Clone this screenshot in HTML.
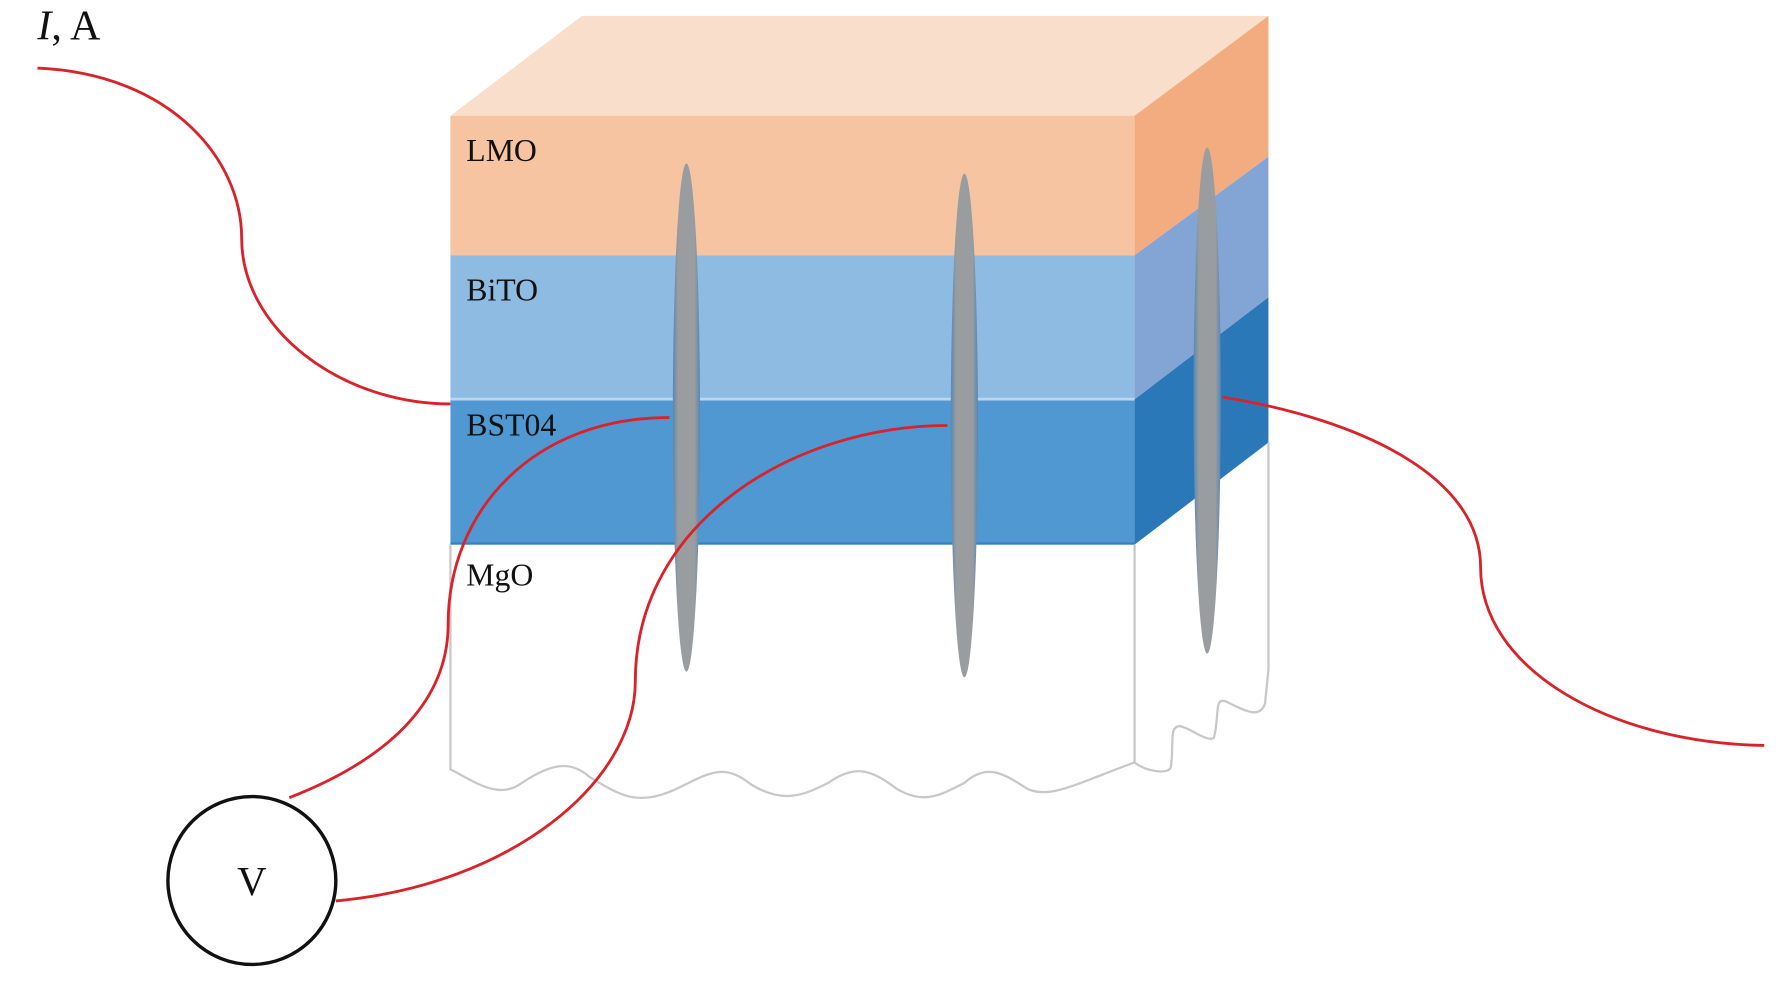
<!DOCTYPE html>
<html><head><meta charset="utf-8"><style>html,body{margin:0;padding:0;background:#fff;width:1779px;height:986px;overflow:hidden}</style></head>
<body>
<svg width="1779" height="986" viewBox="0 0 1568 869" preserveAspectRatio="none" xmlns="http://www.w3.org/2000/svg">
<defs>
<linearGradient id="ell" x1="0" x2="1"><stop offset="0" stop-color="#5a86b0"/><stop offset="0.2" stop-color="#9a9d9f"/><stop offset="0.8" stop-color="#9a9d9f"/><stop offset="1" stop-color="#5a86b0"/></linearGradient>
</defs>
<polygon points="397,102 513,14 1118,14 1000,102" fill="#f9dfcb"/>
<polygon points="1000,102 1118,14 1118,138 1000,225" fill="#f3ab80"/>
<polygon points="1000,225 1118,138 1118,262 1000,352" fill="#83a5d6"/>
<polygon points="1000,352 1118,262 1118,390 1000,480" fill="#2b78b8"/>
<rect x="397" y="102" width="603" height="123" fill="#f7c4a1"/>
<rect x="397" y="225" width="603" height="127" fill="#8ebbe2"/>
<line x1="397" y1="352" x2="1000" y2="352" stroke="#bcd6ee" stroke-width="3"/>
<rect x="397" y="353" width="603" height="127" fill="#5098d2"/>
<line x1="397" y1="479" x2="1000" y2="479" stroke="#3a7fc0" stroke-width="2"/>
<path d="M397,480 L397,678 C420,690 440,705 460,690 C490,670 505,672 520,685 C545,700 560,710 590,698 C620,685 635,670 660,690 C690,710 710,700 730,690 C755,672 770,680 790,695 C815,710 830,700 850,690 C870,672 885,682 905,695 C925,705 950,690 1000,672" fill="none" stroke="#c8c8c8" stroke-width="2"/>
<path d="M1000,480 L1000,672 C1010,680 1030,683 1032,676 C1035,655 1030,640 1040,640 C1050,642 1065,655 1070,650 C1075,630 1070,615 1080,618 C1095,625 1110,635 1115,620 L1118,590 L1118,390" fill="none" stroke="#c8c8c8" stroke-width="2"/>
<ellipse cx="605" cy="368" rx="12" ry="224" fill="url(#ell)"/>
<ellipse cx="850" cy="375" rx="12" ry="222" fill="url(#ell)"/>
<ellipse cx="1064" cy="353" rx="12" ry="223" fill="url(#ell)"/>
<g fill="none" stroke="#d8232a" stroke-width="2.5">
<path d="M33,60 C150,65 213,140 213,210 C213,290 300,356 397,356"/>
<path d="M255,703 C340,670 395,620 395,550 C395,450 470,368 590,368"/>
<path d="M296,794 C450,780 560,690 560,600 C560,460 700,375 835,375"/>
<path d="M1078,350 C1200,370 1305,420 1305,500 C1305,590 1420,655 1555,657"/>
</g>
<circle cx="222" cy="776" r="74" fill="none" stroke="#111" stroke-width="3"/>
<g font-family="Liberation Serif, serif" fill="#111">
<text x="33" y="35" font-size="37"><tspan font-style="italic">I</tspan>, A</text>
<text x="411" y="142" font-size="28">LMO</text>
<text x="411" y="265" font-size="28">BiTO</text>
<text x="411" y="384" font-size="28">BST04</text>
<text x="411" y="516" font-size="28">MgO</text>
<text x="209" y="789" font-size="36">V</text>
</g>
</svg>
</body></html>
